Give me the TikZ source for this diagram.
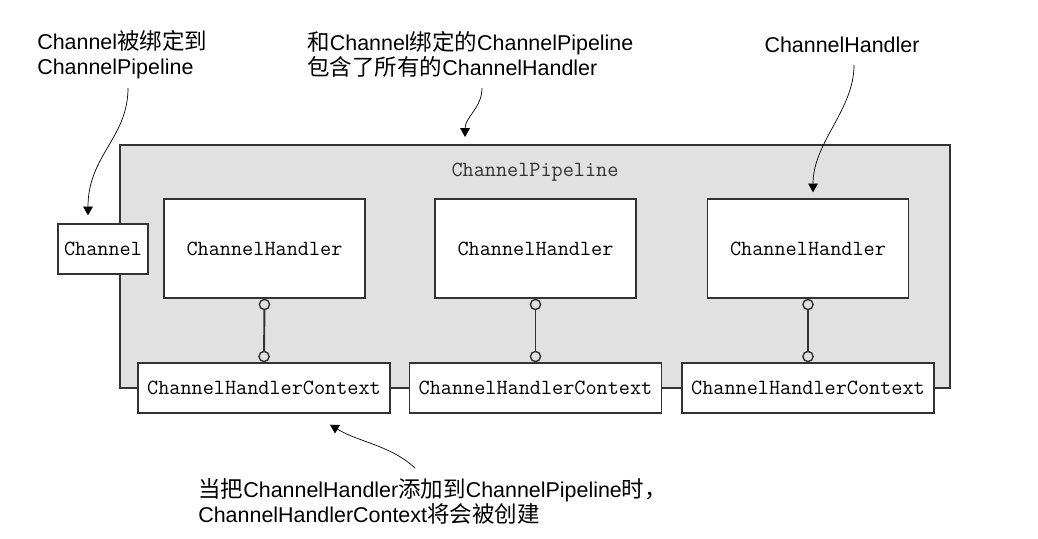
\documentclass[tikz,border=0pt]{standalone}
\usepackage{fontspec}
\setmainfont{Liberation Sans}
\newfontfamily\cjk[Scale=1.05]{Noto Sans CJK SC}
\newcommand{\zh}[1]{{\cjk #1}}
\usetikzlibrary{arrows.meta}
\definecolor{sfondo}{HTML}{E1E1E1}
\definecolor{bordo}{HTML}{333333}

\begin{document}
\begin{tikzpicture}[x=0.02cm, y=-0.02cm, font=\fontsize{12.2}{14.2}\selectfont]

    % Stili globali
    \tikzset{
        box/.style={draw=bordo, line width=0.8pt, fill=white, inner sep=0pt,
                    font=\ttfamily\fontsize{12.3}{14}\selectfont},
        handler/.style={box, minimum width=4.02cm, minimum height=1.98cm},
        context/.style={box, minimum width=5.04cm, minimum height=1cm},
        link/.style={draw=bordo, line width=1.1pt,
                     {Circle[open,length=6.6pt,line width=0.8pt]}-{Circle[open,length=6.6pt,line width=0.8pt]}},
        freccia/.style={line width=0.4pt, -{Triangle[length=5pt,width=5.5pt]}},
        nota/.style={inner sep=0pt, align=left}
    }

    % Margini della figura
    \useasboundingbox (0,0) rectangle (1038,538);

    % Riquadro della pipeline
    \node[draw=bordo, line width=1.2pt, fill=sfondo, minimum width=16.6cm,
          minimum height=4.86cm] (pipeline) at (535,266.5) {};
    \node[font=\ttfamily\fontsize{12.3}{14}\selectfont, text=black!80]
          (pipelineLbl) at (535,172) {ChannelPipeline};

    % Channel
    \node[box, minimum width=1.8cm, minimum height=1cm] (channel) at (103,249) {Channel};

    % ChannelHandler
    \node[handler] (handlerA) at (264.5,248.5) {ChannelHandler};
    \node[handler] (handlerB) at (535.5,248.5) {ChannelHandler};
    \node[handler] (handlerC) at (808,248.5) {ChannelHandler};

    % ChannelHandlerContext (sul bordo inferiore)
    \node[context] (contextA) at (264,388) {ChannelHandlerContext};
    \node[context] (contextB) at (535.5,388) {ChannelHandlerContext};
    \node[context] (contextC) at (808,388) {ChannelHandlerContext};

    % Collegamenti handler - context
    \draw[link] (handlerA.south) -- (contextA.north);
    \draw[link] (handlerB.south) -- (contextB.north);
    \draw[link] (handlerC.south) -- (contextC.north);

    % Note esterne
    \node[nota, anchor=west] (notaBind) at (37,54.5)
        {Channel\zh{被绑定到}\\ChannelPipeline};
    \node[nota, anchor=west] (notaPipe) at (307,54.5)
        {\zh{和}Channel\zh{绑定的}ChannelPipeline\\\zh{包含了所有的}ChannelHandler};
    \node[nota] (notaHandler) at (842,45) {ChannelHandler};
    \node[nota, anchor=west] (notaContext) at (198,501)
        {\zh{当把}ChannelHandler\zh{添加到}ChannelPipeline\zh{时，}\\ChannelHandlerContext\zh{将会被创建}};

    % Frecce delle note
    \coordinate (codaBind) at (128,88);
    \coordinate (codaPipe) at (482,88);
    \coordinate (codaHandler) at (854,65);
    \coordinate (codaContext) at (415,468);
    \draw[freccia] (codaBind) .. controls +(0,50) and +(0,-60) .. ([xshift=-0.3cm,yshift=0.16cm]channel.north);
    \draw[freccia] (codaPipe) .. controls +(0,20) and +(0,-20) .. ([xshift=-1.4cm,yshift=0.14cm]pipeline.north);
    \draw[freccia] (codaHandler) .. controls +(0,45) and +(0,-50) .. ([xshift=0.1cm,yshift=0.12cm]handlerC.north);
    \draw[freccia] (codaContext) .. controls +(-25,-23) and +(30,18) .. ([xshift=1.32cm,yshift=-0.22cm]contextA.south);

\end{tikzpicture}
\end{document}
